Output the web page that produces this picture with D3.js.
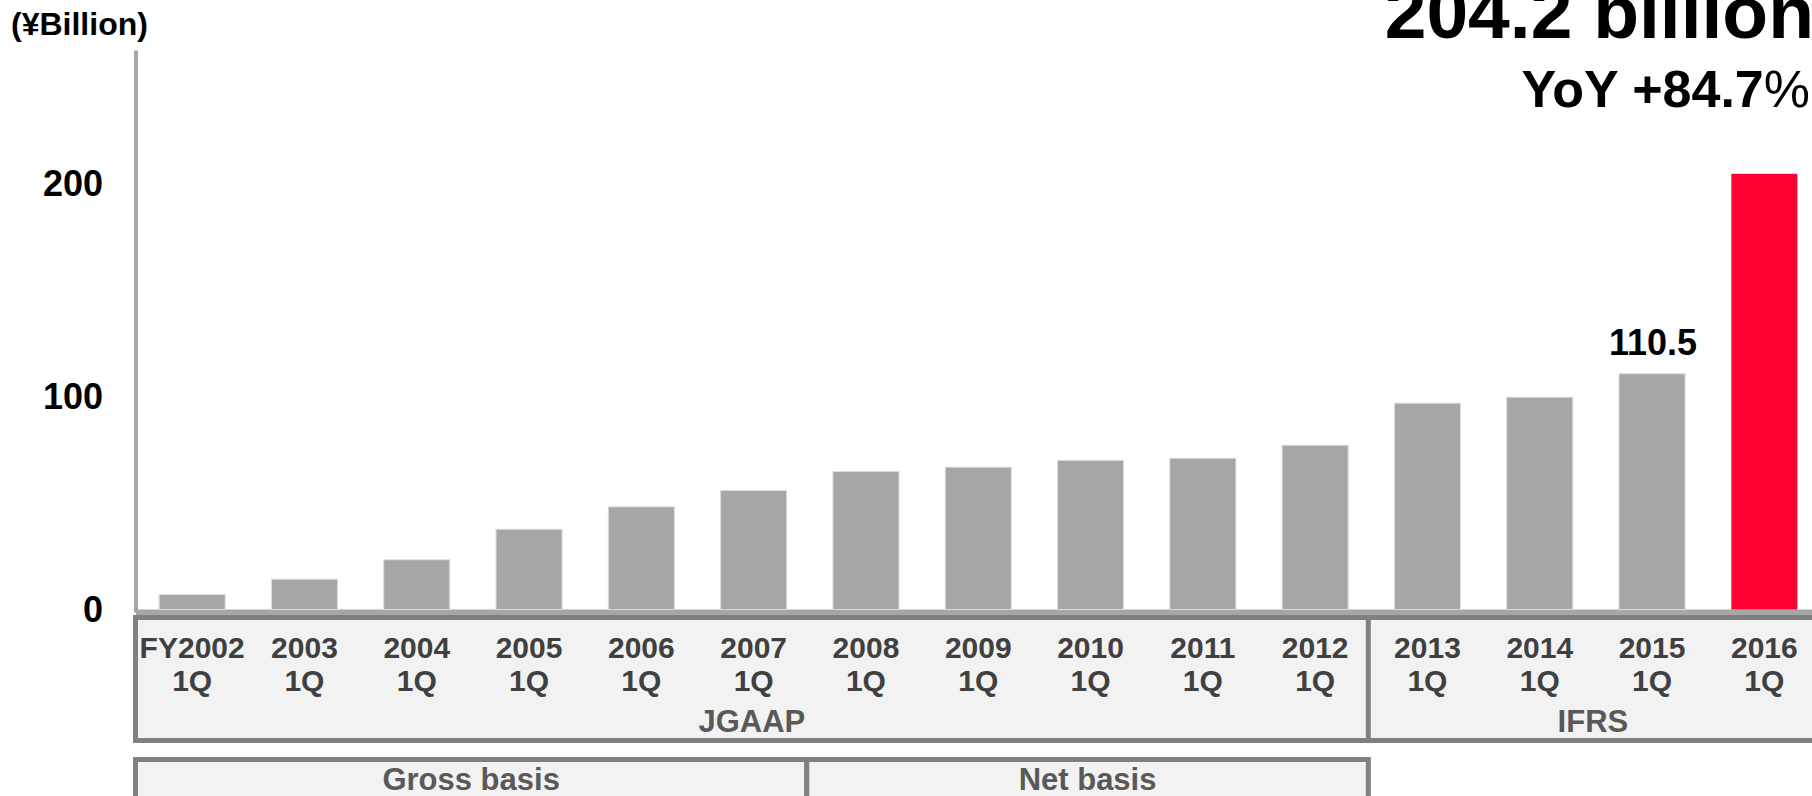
<!DOCTYPE html>
<html>
<head>
<meta charset="utf-8">
<script src="https://cdn.jsdelivr.net/npm/d3@7/dist/d3.min.js"></script>
<style>
  html, body { margin: 0; padding: 0; background: #ffffff; }
  svg { display: block; font-family: "Liberation Sans", Arial, sans-serif; font-weight: bold; }
</style>
</head>
<body>
<svg id="chart" width="1812" height="796"></svg>
<script>
// First-quarter revenue by fiscal year (¥ billion)
const categories = ["FY2002", "2003", "2004", "2005", "2006", "2007", "2008", "2009",
                    "2010", "2011", "2012", "2013", "2014", "2015", "2016"];
const quarter = "1Q";
const revenue = [7.0, 14.2, 23.3, 37.6, 48.1, 55.8, 64.7, 66.7, 69.9, 70.9, 77.0, 96.7, 99.5, 110.5, 204.2];
const yTicks = [0, 100, 200];

// Accounting standard bands under the axis
const standards = ["JGAAP", "IFRS"];
const standardFirst = ["FY2002", "2013"];
const standardLast = ["2012", "2016"];

// Revenue recognition basis bands
const bases = ["Gross basis", "Net basis"];
const basisFirst = ["FY2002", "2008"];
const basisLast = ["2007", "2012"];

// Bars with a value label, and the highlighted latest bar
const labelled = ["2015"];
const highlight = "2016";
const headline = revenue[revenue.length - 1].toFixed(1) + " billion";
const yoyText = "YoY +84.7";

const svg = d3.select("#chart");

const x = d3.scaleBand()
  .domain(categories)
  .range([136, 1820.5])
  .paddingInner(0.412)
  .paddingOuter(0.206);

const y = d3.scaleLinear()
  .domain([0, 262])
  .range([609.5, 50.5]);

const gap = x.step() * x.paddingInner() / 2;
const leftEdge = c => x(c) - gap;
const rightEdge = c => x(c) + x.bandwidth() + gap;

// Unit caption
svg.append("text")
  .attr("x", 11).attr("y", 35)
  .attr("font-size", 32).attr("fill", "#000")
  .text("(¥Billion)");

// Headline
svg.append("text")
  .attr("x", 1814).attr("y", 38)
  .attr("text-anchor", "end")
  .attr("font-size", 75).attr("fill", "#000")
  .text(headline);

const yoy = svg.append("text")
  .attr("x", 1810).attr("y", 107)
  .attr("text-anchor", "end")
  .attr("font-size", 52).attr("fill", "#000");
yoy.append("tspan").text(yoyText);
yoy.append("tspan").attr("font-weight", "normal").text("%");

// Y axis labels
const yAxis = d3.axisLeft(y).tickValues(yTicks).tickSize(0).tickPadding(0);
const yg = svg.append("g").attr("transform", "translate(103,0)").call(yAxis);
yg.select(".domain").remove();
yg.selectAll("text")
  .attr("font-size", 36)
  .attr("font-family", "'Liberation Sans', Arial, sans-serif")
  .attr("font-weight", "bold")
  .attr("fill", "#000")
  .attr("dy", "0.34em");

// Axis lines
svg.append("line")
  .attr("x1", 136).attr("x2", 136)
  .attr("y1", y(262)).attr("y2", y(0) + 3)
  .attr("stroke", "#a6a6a6").attr("stroke-width", 4);

svg.append("rect")
  .attr("x", 136).attr("y", y(0))
  .attr("width", 1820 - 136).attr("height", 5.5)
  .attr("fill", "#a6a6a6");

// Bars
svg.append("g").selectAll("rect")
  .data(categories)
  .join("rect")
  .attr("x", c => x(c))
  .attr("y", (c, i) => y(revenue[i]))
  .attr("width", x.bandwidth())
  .attr("height", (c, i) => y(0) - y(revenue[i]))
  .attr("fill", c => c === highlight ? "#ff0033" : "#a6a6a6")
  .attr("stroke", c => c === highlight ? "none" : "#dcdcdc")
  .attr("stroke-width", 1);

// Value labels
svg.append("g").selectAll("text")
  .data(labelled)
  .join("text")
  .attr("x", c => x(c) + x.bandwidth() / 2 + 1)
  .attr("y", c => y(revenue[categories.indexOf(c)]) - 19)
  .attr("text-anchor", "middle")
  .attr("font-size", 36).attr("fill", "#000")
  .text(c => revenue[categories.indexOf(c)].toFixed(1));

// Category table: period row with accounting standard
const tableTop = 617.5, tableBottom = 740.5;
svg.append("rect")
  .attr("x", 135.5).attr("y", tableTop)
  .attr("width", 1840 - 135.5).attr("height", tableBottom - tableTop)
  .attr("fill", "#f2f2f2").attr("stroke", "#808080").attr("stroke-width", 5);

standards.forEach((s, i) => {
  const x0 = i === 0 ? 135.5 : leftEdge(standardFirst[i]) - 3;
  const x1 = rightEdge(standardLast[i]) - 3;
  if (i > 0) {
    svg.append("line")
      .attr("x1", x0).attr("x2", x0)
      .attr("y1", tableTop).attr("y2", tableBottom)
      .attr("stroke", "#808080").attr("stroke-width", 5);
  }
  svg.append("text")
    .attr("x", (x0 + Math.min(x1, 1820)) / 2)
    .attr("y", 732)
    .attr("text-anchor", "middle")
    .attr("font-size", 31).attr("fill", "#595959")
    .text(s);
});

const cat = svg.append("g").selectAll("g")
  .data(categories)
  .join("g")
  .attr("transform", c => `translate(${x(c) + x.bandwidth() / 2},0)`);
cat.append("text")
  .attr("y", 658).attr("text-anchor", "middle")
  .attr("font-size", 30).attr("fill", "#404040")
  .text(c => c);
cat.append("text")
  .attr("y", 691).attr("text-anchor", "middle")
  .attr("font-size", 30).attr("fill", "#404040")
  .text(quarter);

// Basis row
bases.forEach((b, i) => {
  const x0 = i === 0 ? 135.5 : leftEdge(basisFirst[i]) - 3;
  const x1 = rightEdge(basisLast[i]) - 3;
  svg.append("rect")
    .attr("x", x0).attr("y", 759.5)
    .attr("width", x1 - x0).attr("height", 80)
    .attr("fill", "#f2f2f2").attr("stroke", "#808080").attr("stroke-width", 5);
  svg.append("text")
    .attr("x", (x0 + x1) / 2).attr("y", 790)
    .attr("text-anchor", "middle")
    .attr("font-size", 31).attr("fill", "#595959")
    .text(b);
});
</script>
</body>
</html>
